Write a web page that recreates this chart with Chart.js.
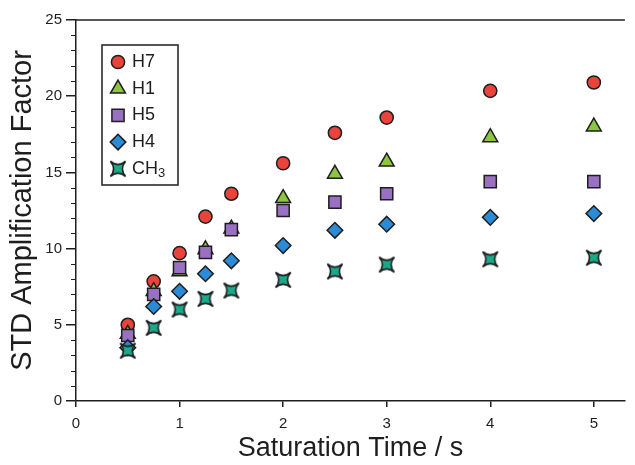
<!DOCTYPE html>
<html>
<head>
<meta charset="utf-8">
<title>STD Amplification Factor</title>
<script src="https://cdn.jsdelivr.net/npm/chart.js@4/dist/chart.umd.min.js"></script>
<style>
  html, body { margin: 0; padding: 0; background: #fff; }
  #wrap { width: 635px; height: 465px; }
</style>
</head>
<body>
<div id="wrap"><canvas id="stdChart" width="635" height="465"></canvas></div>
<script>
// Saturation times (s) and amplification factors
const satTimes = [0.5, 0.75, 1, 1.25, 1.5, 2, 2.5, 3, 4, 5];
const h7Values = [5.0, 7.85, 9.7, 12.1, 13.6, 15.6, 17.6, 18.6, 20.35, 20.9];
const h1Values = [4.4, 7.2, 8.5, 9.95, 11.3, 13.3, 14.9, 15.7, 17.3, 18.0];
const h5Values = [4.3, 7.0, 8.75, 9.75, 11.25, 12.5, 13.05, 13.6, 14.4, 14.4];
const h4Values = [3.5, 6.2, 7.2, 8.35, 9.2, 10.2, 11.2, 11.6, 12.05, 12.3];
const ch3Values = [3.3, 4.8, 6.0, 6.7, 7.25, 7.95, 8.5, 8.95, 9.3, 9.4];
const xTickValues = [0, 1, 2, 3, 4, 5];
const yTickValues = [0, 5, 10, 15, 20, 25];

const FONT = "'Liberation Sans', Arial, Helvetica, sans-serif";
const INK = '#1e1e1e';

/**
 * Build the concave four-point star (points on the diagonals) used for CH3
 */
function makeStarMarker(fill) {
  const c = document.createElement('canvas');
  c.width = 22;
  c.height = 22;
  const ctx = c.getContext('2d');
  const cx = 11, cy = 11, a = 7.6, k = a * 0.15;
  ctx.beginPath();
  ctx.moveTo(cx - a, cy - a);
  ctx.quadraticCurveTo(cx, cy - k, cx + a, cy - a);
  ctx.quadraticCurveTo(cx + k, cy, cx + a, cy + a);
  ctx.quadraticCurveTo(cx, cy + k, cx - a, cy + a);
  ctx.quadraticCurveTo(cx - k, cy, cx - a, cy - a);
  ctx.closePath();
  ctx.fillStyle = fill;
  ctx.fill();
  ctx.lineWidth = 1.6;
  ctx.lineJoin = 'miter';
  ctx.strokeStyle = INK;
  ctx.stroke();
  return c;
}

const starMarker = makeStarMarker('#19a98b');

function toPoints(values) {
  return values.map((v, i) => ({ x: satTimes[i], y: v }));
}

// later series sit on top, so lower "order" is drawn last
const series = [
  { label: 'H7', data: toPoints(h7Values), color: '#e8443b', style: 'circle', radius: 6.6, order: 4 },
  { label: 'H1', data: toPoints(h1Values), color: '#8dc440', style: 'triangle', radius: 8.6, order: 3 },
  { label: 'H5', data: toPoints(h5Values), color: '#9a70c2', style: 'rect', radius: 8.6, order: 2 },
  { label: 'H4', data: toPoints(h4Values), color: '#2b8bd6', style: 'rectRot', radius: 7.8, order: 1 },
  { label: 'CH3', data: toPoints(ch3Values), color: '#19a98b', style: starMarker, radius: 8.5, order: 0 }
];

const datasets = series.map(s => ({
  label: s.label,
  data: s.data,
  order: s.order,
  showLine: false,
  pointStyle: s.style,
  pointRadius: s.radius,
  pointHoverRadius: s.radius,
  pointBackgroundColor: s.color,
  pointBorderColor: INK,
  pointBorderWidth: 1.5,
  backgroundColor: s.color,
  borderColor: INK
}));

/**
 * Top frame line and minor y ticks
 */
const framePlugin = {
  id: 'frame',
  afterDraw(chart) {
    const { ctx, chartArea } = chart;
    const y = chart.scales.y;
    ctx.save();
    ctx.strokeStyle = INK;
    ctx.lineWidth = 1.5;
    ctx.beginPath();
    ctx.moveTo(chartArea.left, chartArea.top);
    ctx.lineTo(chartArea.right, chartArea.top);
    ctx.stroke();
    // minor ticks every 1 unit
    ctx.lineWidth = 1.2;
    ctx.beginPath();
    for (let v = y.min; v <= y.max; v++) {
      if (v % 5 === 0) continue;
      const py = Math.round(y.getPixelForValue(v)) + 0.5;
      ctx.moveTo(chartArea.left - 5, py);
      ctx.lineTo(chartArea.left, py);
    }
    ctx.stroke();
    ctx.restore();
  }
};

/**
 * Boxed legend in the upper-left corner of the plot
 */
const boxLegendPlugin = {
  id: 'boxLegend',
  afterDatasetsDraw(chart, args, opts) {
    const { ctx, chartArea } = chart;
    const left = chartArea.left + opts.offsetX;
    const top = chartArea.top + opts.offsetY;
    ctx.save();
    ctx.fillStyle = '#fff';
    ctx.fillRect(left, top, opts.width, opts.height);
    ctx.strokeStyle = INK;
    ctx.lineWidth = 1.5;
    ctx.strokeRect(left, top, opts.width, opts.height);

    chart.data.datasets.forEach((ds, i) => {
      const cy = top + opts.firstRow + i * opts.rowGap;
      const mx = left + opts.markerX;
      ctx.fillStyle = ds.pointBackgroundColor;
      ctx.strokeStyle = ds.pointBorderColor;
      ctx.lineWidth = ds.pointBorderWidth;
      if (Chart.helpers && Chart.helpers.drawPoint) {
        Chart.helpers.drawPoint(ctx, {
          pointStyle: ds.pointStyle,
          radius: ds.pointRadius,
          rotation: 0,
          borderWidth: ds.pointBorderWidth
        }, mx, cy);
      }
      ctx.fillStyle = INK;
      ctx.textBaseline = 'middle';
      ctx.textAlign = 'left';
      ctx.font = opts.fontSize + 'px ' + FONT;
      const tx = left + opts.textX;
      const m = ds.label.match(/^([A-Za-z]+)(\d+)$/);
      if (ds.label === 'CH3' && m) {
        ctx.fillText(m[1], tx, cy);
        const w = ctx.measureText(m[1]).width;
        ctx.font = Math.round(opts.fontSize * 0.7) + 'px ' + FONT;
        ctx.fillText(m[2], tx + w, cy + 5);
      } else {
        ctx.fillText(ds.label, tx, cy);
      }
    });
    ctx.restore();
  }
};

const ctx = document.getElementById('stdChart').getContext('2d');
const chart = new Chart(ctx, {
  type: 'scatter',
  data: { datasets: datasets },
  plugins: [framePlugin, boxLegendPlugin],
  options: {
    responsive: false,
    animation: false,
    layout: { padding: { top: 20, right: 3, left: 0, bottom: 0 } },
    plugins: {
      legend: { display: false },
      tooltip: { enabled: false },
      boxLegend: {
        offsetX: 26, offsetY: 25, width: 76, height: 140,
        markerX: 16, textX: 30, firstRow: 17, rowGap: 26.7, fontSize: 18
      }
    },
    scales: {
      x: {
        type: 'linear',
        min: 0,
        max: 5.3,
        afterFit: scale => { scale.height = 64; },
        afterBuildTicks: scale => { scale.ticks = xTickValues.map(v => ({ value: v })); },
        grid: { drawOnChartArea: false, tickLength: 6, color: INK, lineWidth: 1.5 },
        border: { color: INK, width: 1.5 },
        ticks: { padding: 8, color: INK, font: { family: FONT, size: 15 } },
        title: {
          display: true,
          text: 'Saturation Time / s',
          color: INK,
          font: { family: FONT, size: 27 },
          padding: { top: 0, bottom: 0 }
        }
      },
      y: {
        type: 'linear',
        min: 0,
        max: 25,
        afterFit: scale => { scale.width = 76; },
        afterBuildTicks: scale => { scale.ticks = yTickValues.map(v => ({ value: v })); },
        grid: { drawOnChartArea: false, tickLength: 10, color: INK, lineWidth: 1.5 },
        border: { color: INK, width: 1.5 },
        ticks: { padding: 4, color: INK, font: { family: FONT, size: 15 } },
        title: {
          display: true,
          text: 'STD Amplification Factor',
          color: INK,
          font: { family: FONT, size: 29 },
          padding: { top: 6, bottom: 0 }
        }
      }
    }
  }
});
</script>
</body>
</html>
